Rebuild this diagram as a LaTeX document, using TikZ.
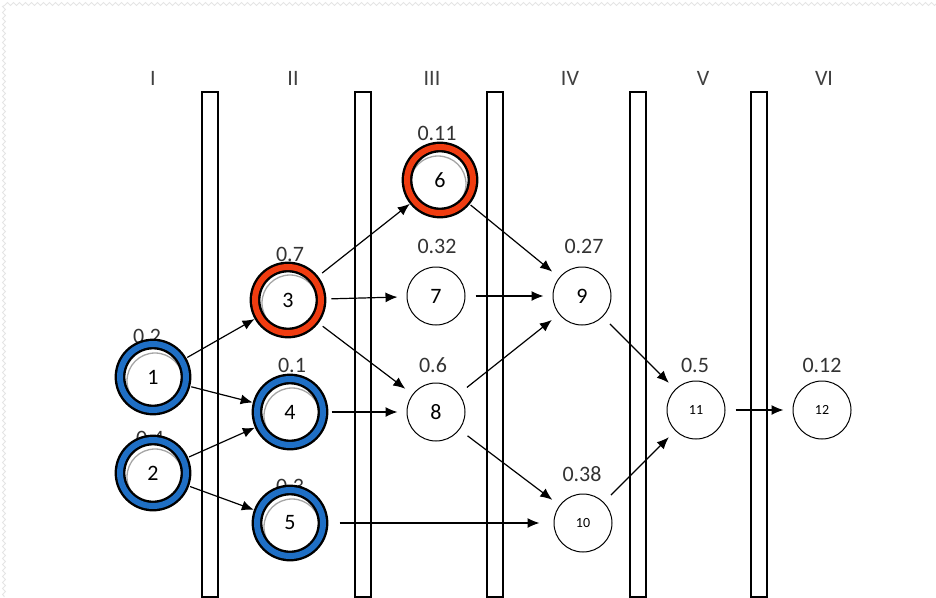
\documentclass[tikz,border=0pt]{standalone}
\usepackage{fontspec}
\setmainfont{Carlito}
\usetikzlibrary{arrows.meta,decorations.pathmorphing}
\definecolor{ringblue}{HTML}{1F6FC5}
\definecolor{ringred}{HTML}{F03C10}

\begin{document}
\begin{tikzpicture}[x=1pt, y=-1pt, >={Latex[length=12pt,width=10pt]},
             every node/.style={font=\fontsize{22}{24}\selectfont},
             state/.style={circle, draw, line width=1pt, minimum size=58pt, inner sep=0pt},
             small/.style={font=\fontsize{14}{16}\selectfont},
             prob/.style={inner sep=1pt, text=black!80},
             stage/.style={font=\fontsize{22}{24}\selectfont, text=black!75},
             shade/.style={circle, draw=black!35, line width=1.3pt, minimum size=56pt, inner sep=0pt},
             ring/.style={circle, draw=black, line width=2.4pt, double distance=6pt,
                          minimum size=66pt, inner sep=0pt},
             bar/.style={draw, line width=1.5pt, fill=white},
             link/.style={->, line width=1.2pt, shorten <=10pt, shorten >=9pt}]
\useasboundingbox (0,0) rectangle (936,597);
%% torn edge of the page
\draw[black!10, line width=1pt, decorate, decoration={zigzag, segment length=6pt, amplitude=1.5pt}]
  (936,4) -- (4,4) -- (4,597);

%% stage separators
\foreach \xa in {202,355,487,630,751}
  \draw[bar] (\xa,92) rectangle ({\xa+16},597);

%% stage numbers
\node[stage] (s1) at (153,78) {I};
\node[stage] (s2) at (293,78) {II};
\node[stage] (s3) at (432,78) {III};
\node[stage] (s4) at (570,78) {IV};
\node[stage] (s5) at (703,78) {V};
\node[stage] (s6) at (824,78) {VI};

%% shadows under the marked states
\foreach \cx/\cy in {155/381,155/477,292/416,292/527,438/184,290/303}
  \node[shade] at (\cx,\cy) {};

%% states
\node[state] (n1)  at (153,377) {1};
\node[state] (n2)  at (153,473) {2};
\node[state] (n3)  at (288,300) {3};
\node[state] (n4)  at (290,412) {4};
\node[state] (n5)  at (290,523) {5};
\node[state] (n6)  at (440,180) {6};
\node[state] (n7)  at (436,296) {7};
\node[state] (n8)  at (436,412) {8};
\node[state] (n9)  at (582,296) {9};
\node[state, small] (n10) at (583,523) {10};
\node[state, small] (n11) at (696,410) {11};
\node[state, small] (n12) at (822,410) {12};

%% probabilities
\node[prob] (p1)  at (147,336) {0.2};
\node[prob] (p2)  at (150,438) {0.4};
\node[prob] (p3)  at (290,254) {0.7};
\node[prob] (p4)  at (292,365) {0.1};
\node[prob] (p5)  at (290,486) {0.3};
\node[prob] (p6)  at (437,133) {0.11};
\node[prob] (p7)  at (437,246) {0.32};
\node[prob] (p8)  at (433,365) {0.6};
\node[prob] (p9)  at (584,246) {0.27};
\node[prob] (p10) at (582,474) {0.38};
\node[prob] (p11) at (695,365) {0.5};
\node[prob] (p12) at (822,365) {0.12};

%% marked states
\foreach \n in {n1,n2,n4,n5}
  \node[ring, double=ringblue] at (\n.center) {};
\foreach \n in {n3,n6}
  \node[ring, double=ringred] at (\n.center) {};

%% transitions
\draw[link] (n1) -- (n3);
\draw[link] (n1) -- (n4);
\draw[link] (n2) -- (n4);
\draw[link] (n2) -- (n5);
\draw[link, shorten <=14pt] (n3) -- (n6);
\draw[link, shorten <=14pt] (n3) -- (n7);
\draw[link, shorten <=14pt] (n3) -- (n8);
\draw[link, shorten <=12pt] (n4) -- (n8);
\draw[link, shorten <=20pt, shorten >=14pt] (n5) -- (n10);
\draw[link] (n6) -- (n9);
\draw[link] (n7) -- (n9);
\draw[link] (n8) -- (n9);
\draw[link] (n8) -- (n10);
\draw[link] (n9) -- (n11);
\draw[link] (n10) -- (n11);
\draw[link] (n11) -- (n12);
\end{tikzpicture}
\end{document}
